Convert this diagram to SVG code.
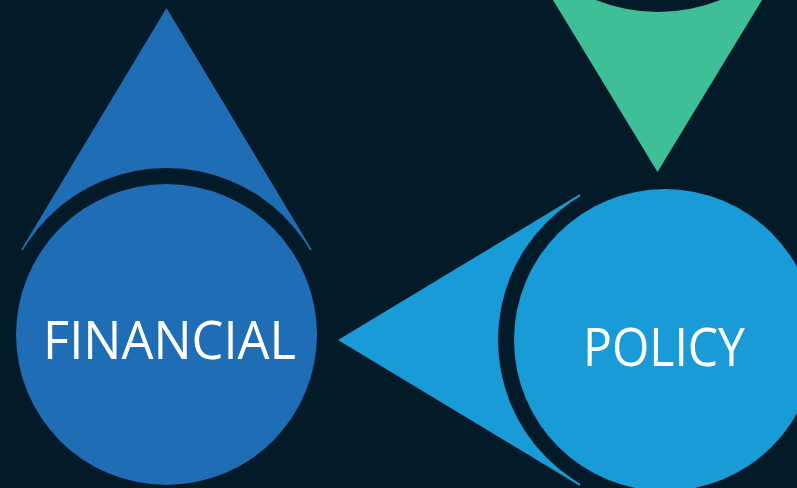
<svg xmlns="http://www.w3.org/2000/svg" width="797" height="488" viewBox="0 0 797 488">
<style>
.bg{fill:#031a28}
.gap{fill:#031a28}
.lbl{fill:#ffffff;font-family:"Open Sans","Noto Sans","Liberation Sans",sans-serif;font-size:53px;text-anchor:middle}
</style>
<rect class="bg" x="0" y="0" width="797" height="488"/>
<g id="connectors">
<polygon points="166.5,8 312,250 21,250" fill="#1f6db5"/>
<polygon points="338,340 580,194 580,486" fill="#189bd6"/>
<polygon points="553,0 762,0 657.5,172" fill="#3ebf97"/>
</g>
<g id="node-top">
<circle class="gap" cx="658" cy="-155" r="167"/>
</g>
<g id="node-financial">
<circle class="gap" cx="166.5" cy="334.5" r="166.5"/>
<circle cx="166.5" cy="334.5" r="150.5" fill="#1f6db5"/>
<text class="lbl" x="169.5" y="359" textLength="253" lengthAdjust="spacingAndGlyphs">FINANCIAL</text>
</g>
<g id="node-policy">
<circle class="gap" cx="665" cy="340" r="167"/>
<circle cx="665" cy="340" r="151" fill="#189bd6"/>
<text class="lbl" x="664" y="366" textLength="162" lengthAdjust="spacingAndGlyphs">POLICY</text>
</g>
</svg>
